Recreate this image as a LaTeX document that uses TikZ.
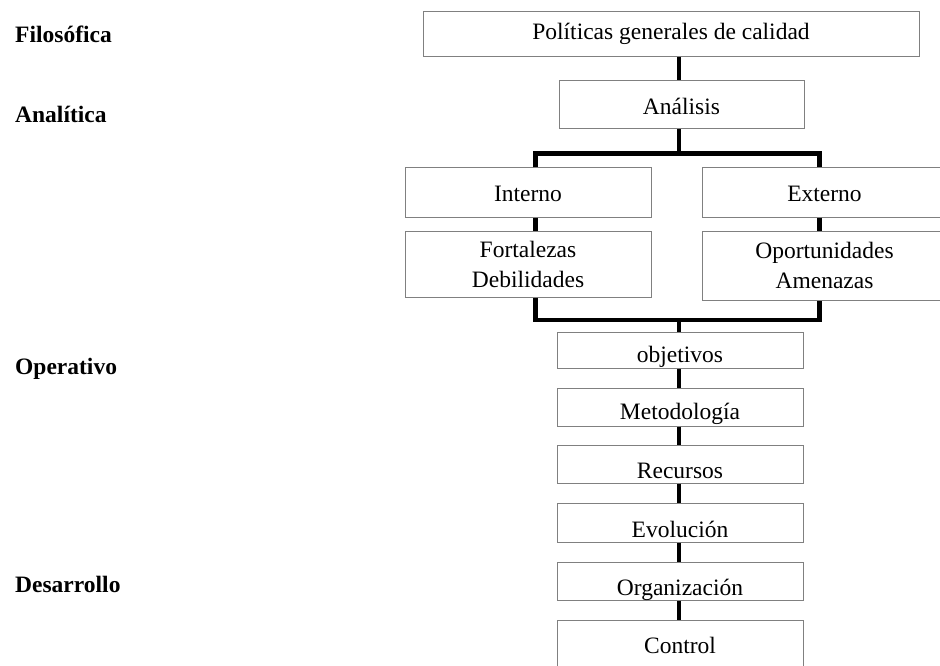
\documentclass[tikz,border=0pt]{standalone}
\usepackage{fontspec}
\setmainfont{Liberation Serif}
\begin{document}
\begin{tikzpicture}[x=1pt,y=-1pt,
  box/.style={draw=black!50, line width=1pt, fill=white, inner sep=0pt,
    align=center, font=\fontsize{23.5}{30}\selectfont},
  basel/.style={text height=#1, text depth=0pt},
  lvl/.style={anchor=base west, inner sep=0pt, font=\fontsize{23.5}{28}\selectfont\bfseries},
  conn/.style={line width=4.5pt, black},
  conns/.style={line width=4.2pt, black}]
\useasboundingbox (0,0) rectangle (940,666);
% level labels
\node[lvl] (l1) at (15,43) {Filosófica};
\node[lvl] (l2) at (15,123) {Analítica};
\node[lvl] (l3) at (15,374) {Operativo};
\node[lvl] (l4) at (15,592) {Desarrollo};
% boxes
\node[box, basel=11.5pt, minimum width=496, minimum height=45.5] (pol) at (671,34.25) {Políticas generales de calidad};
\node[box, basel=20pt, minimum width=245, minimum height=48] (ana) at (681.5,105) {Análisis};
\node[box, basel=18pt, minimum width=246, minimum height=49] (int) at (528,192.5) {Interno};
\node[box, basel=18pt, minimum width=245, minimum height=49] (ext) at (824.5,192.5) {Externo};
\node[box, minimum width=246, minimum height=66] (fort) at (528,264) {Fortalezas\\Debilidades};
\node[box, minimum width=245, minimum height=69] (opo) at (824.5,265.5) {Oportunidades\\Amenazas};
\node[box, basel=23pt, minimum width=246, minimum height=35.5] (obj) at (680,350.5) {objetivos};
\node[box, basel=24pt, minimum width=246, minimum height=38] (met) at (680,407) {Metodología};
\node[box, basel=28pt, minimum width=246, minimum height=38] (rec) at (680,464) {Recursos};
\node[box, basel=29pt, minimum width=246, minimum height=39] (evo) at (680,522.5) {Evolución};
\node[box, basel=28pt, minimum width=246, minimum height=38] (org) at (680,581) {Organización};
\node[box, text height=0pt, text depth=4pt, minimum width=246, minimum height=70] (ctl) at (680,655) {Control};
% connector guides
\coordinate (tx) at (679,0);
\coordinate (lx) at (535.5,0);
\coordinate (rx) at (819.5,0);
\coordinate (bt) at (679,153.5);
\coordinate (bb) at (679,320);
% connectors
\draw[conn] (pol.south -| tx) -- (ana.north -| tx);
\draw[conn] (ana.south -| tx) -- (bt);
\draw[conn] (int.north -| lx) |- (bt) -| (ext.north -| rx);
\draw[conn] (int.south -| lx) -- (fort.north -| lx);
\draw[conn] (ext.south -| rx) -- (opo.north -| rx);
\draw[conn] (fort.south -| lx) |- (bb) -| (opo.south -| rx);
\draw[conns] (bb) -- (obj.north -| tx);
\draw[conns] (obj.south -| tx) -- (met.north -| tx);
\draw[conns] (met.south -| tx) -- (rec.north -| tx);
\draw[conns] (rec.south -| tx) -- (evo.north -| tx);
\draw[conns] (evo.south -| tx) -- (org.north -| tx);
\draw[conns] (org.south -| tx) -- (ctl.north -| tx);
\end{tikzpicture}
\end{document}
